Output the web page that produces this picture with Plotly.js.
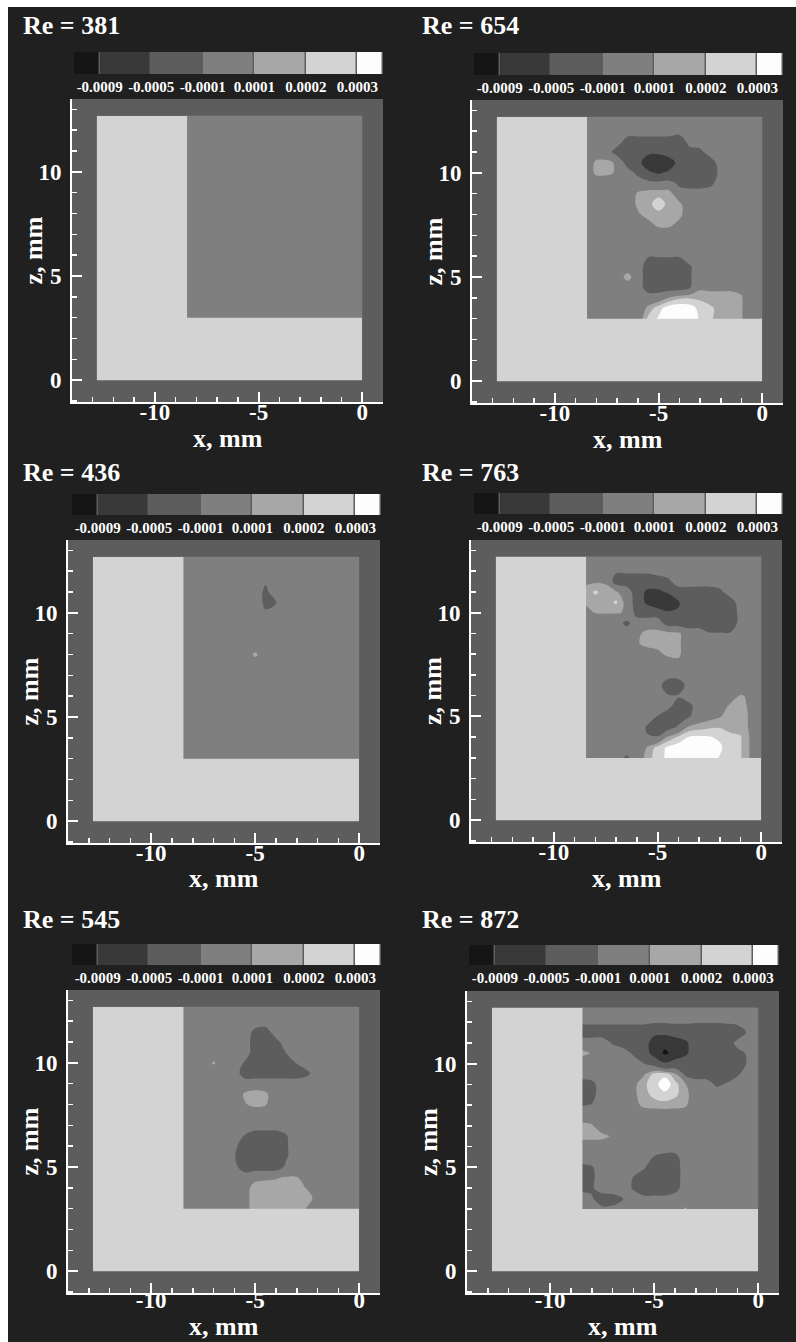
<!DOCTYPE html>
<html><head><meta charset="utf-8">
<script src="https://cdn.plot.ly/plotly-3.0.1.min.js"></script>
<style>
html,body{margin:0;padding:0;background:#ffffff;}
#chart{position:absolute;left:8px;top:7px;width:788px;height:1335px;}
</style></head>
<body><div id="chart"></div>
<script>
// Field values are given in units of 1e-4 (the legend shows them as 0.0001 etc.)
const VALUE_UNIT = 1e-4;
const levelLabels = ['-0.0009','-0.0005','-0.0001','0.0001','0.0002','0.0003'];
const levelValues = [-9, -5, -1, 1, 2, 3];
const bandColors = ['#151515','#393939','#5d5d5d','#7f7f7f','#a7a7a7','#d3d3d3','#fdfdfd'];
const legendBandValues = [-10, -7, -3, 0, 1.5, 2.5, 3.5];

const panelTitles = ['Re = 381','Re = 654','Re = 436','Re = 763','Re = 545','Re = 872'];
const xTickVals = [-10, -5, 0];
const xTickText = ['-10', '-5', '0'];
const zTickVals = [0, 5, 10];
const zTickText = ['0', '5', '10'];
const xRange = [-14, 1];
const zRange = [-1.05, 13.5];

// measurement grid (x, mm) and (z, mm, listed top-down); outermost nodes sit just under the wall/frame
const fieldX = [-8.5,-8,-7.5,-7,-6.5,-6,-5.5,-5,-4.5,-4,-3.5,-3,-2.5,-2,-1.5,-1,-0.5,0.05];
const fieldZ = [12.75,12.5,12,11.5,11,10.5,10,9.5,9,8.5,8,7.5,7,6.5,6,5.5,5,4.5,4,3.5,2.95];
// L-shaped wall region edges (x: outer, inner, end; z: floor, step, top) and values
const wallX = [-12.8, -8.45, 0];
const wallZ = [0, 3, 12.7];
const wallValue = 2.5;
const frameValue = -3;

const field381 = [
[0,0,0,0,0,0,0,0,0,0,0,0,0,0,0,0,0,0],
[0,0,0,0,0,0,0,0,0,0,0,0,0,0,0,0,0,0],
[0,0,0,0,0,0,0,0,0,0,0,0,0,0,0,0,0,0],
[0,0,0,0,0,0,0,0,0,0,0,0,0,0,0,0,0,0],
[0,0,0,0,0,0,0,0,0,0,0,0,0,0,0,0,0,0],
[0,0,0,0,0,0,0,0,0,0,0,0,0,0,0,0,0,0],
[0,0,0,0,0,0,0,0,0,0,0,0,0,0,0,0,0,0],
[0,0,0,0,0,0,0,0,0,0,0,0,0,0,0,0,0,0],
[0,0,0,0,0,0,0,0,0,0,0,0,0,0,0,0,0,0],
[0,0,0,0,0,0,0,0,0,0,0,0,0,0,0,0,0,0],
[0,0,0,0,0,0,0,0,0,0,0,0,0,0,0,0,0,0],
[0,0,0,0,0,0,0,0,0,0,0,0,0,0,0,0,0,0],
[0,0,0,0,0,0,0,0,0,0,0,0,0,0,0,0,0,0],
[0,0,0,0,0,0,0,0,0,0,0,0,0,0,0,0,0,0],
[0,0,0,0,0,0,0,0,0,0,0,0,0,0,0,0,0,0],
[0,0,0,0,0,0,0,0,0,0,0,0,0,0,0,0,0,0],
[0,0,0,0,0,0,0,0,0,0,0,0,0,0,0,0,0,0],
[0,0,0,0,0,0,0,0,0,0,0,0,0,0,0,0,0,0],
[0,0,0,0,0,0,0,0,0,0,0,0,0,0,0,0,0,0],
[0,0,0,0,0,0,0,0,0,0,0,0,0,0,0,0,0,0],
[0,0,0,0,0,0,0,0,0,0,0,0,0,0,0,0,0,0]
];

const field654 = [
[0,0,0,0,0,0,0,0,0,0,0,0,0,0,0,0,0,0],
[0,0,0,0,0,0,0,0,0,0,0,0,0,0,0,0,0,0],
[0,0,0,0,0,0,0,0,0,0,0,0,0,0,0,0,0,0],
[0,0,0,0,-2,-2,-2,-2,-2,-3,0,0,0,0,0,0,0,0],
[0,0,0,-2,-2,-2,-4,-4,-2,-2,-2,-1.5,0,0,0,0,0,0],
[0,1.3,1.3,0.8,-2,-3.5,-8,-9,-8,-3,-2,-2,-2,0,0,0,0,0],
[0,1.3,1.3,0.8,0,-1.5,-4,-5.5,-4,-2,-2,-2,-3,0,0,0,0,0],
[0,0,0,0,0,0,0,0,0,-1.5,-2,-2,-1.5,0,0,0,0,0],
[0,0,0,0,0,1.2,1.5,1.5,1.5,0,0,0,0,0,0,0,0,0],
[0,0,0,0,0,1.3,1.5,2.9,1.5,1.3,0,0,0,0,0,0,0,0],
[0,0,0,0,0,0.8,1.5,1.5,1.5,1.4,0,0,0,0,0,0,0,0],
[0,0,0,0,0,0,0.5,1.3,1.3,0.5,0,0,0,0,0,0,0,0],
[0,0,0,0,0,0,0,0,0,0,0,0,0,0,0,0,0,0],
[0,0,0,0,0,0,0,0,0,0,0,0,0,0,0,0,0,0],
[0,0,0,0,0,0,-0.9,-0.9,-0.9,-0.9,0,0,0,0,0,0,0,0],
[0,0,0,0,0,0,-2,-2,-2,-2,-1.2,0,0,0,0,0,0,0],
[0,0,0,0,1.6,0,-2,-2,-2,-2,-1.2,0,0,0,0,0,0,0],
[0,0,0,0,0,0,-2,-2,-2,-2,-1.2,0.7,0.7,0.7,0.7,0.7,0,0],
[0,0,0,0,0,0,0,0,1.1,1.8,1.9,1.8,1.5,1.5,1.5,1.1,0,0],
[0,0,0,0,0,0,1.3,2.6,3.6,3.8,3.6,2.6,2.2,1.6,1.5,1.1,0,0],
[0,0,0,0,0,0,2.4,3.2,3.6,3.6,3.5,2.9,2.1,1.6,1.5,1.1,0,0]
];

const field436 = [
[0,0,0,0,0,0,0,0,0,0,0,0,0,0,0,0,0,0],
[0,0,0,0,0,0,0,0,0,0,0,0,0,0,0,0,0,0],
[0,0,0,0,0,0,0,0,0,0,0,0,0,0,0,0,0,0],
[0,0,0,0,0,0,0,0,-0.8,0,0,0,0,0,0,0,0,0],
[0,0,0,0,0,0,0,0,-1.4,0,0,0,0,0,0,0,0,0],
[0,0,0,0,0,0,0,0,-1.4,-1.1,0,0,0,0,0,0,0,0],
[0,0,0,0,0,0,0,0,-0.8,0,0,0,0,0,0,0,0,0],
[0,0,0,0,0,0,0,0,0,0,0,0,0,0,0,0,0,0],
[0,0,0,0,0,0,0,0,0,0,0,0,0,0,0,0,0,0],
[0,0,0,0,0,0,0,0,0,0,0,0,0,0,0,0,0,0],
[0,0,0,0,0,0,0,1.3,0,0,0,0,0,0,0,0,0,0],
[0,0,0,0,0,0,0,0,0,0,0,0,0,0,0,0,0,0],
[0,0,0,0,0,0,0,0,0,0,0,0,0,0,0,0,0,0],
[0,0,0,0,0,0,0,0,0,0,0,0,0,0,0,0,0,0],
[0,0,0,0,0,0,0,0,0,0,0,0,0,0,0,0,0,0],
[0,0,0,0,0,0,0,0,0,0,0,0,0,0,0,0,0,0],
[0,0,0,0,0,0,0,0,0,0,0,0,0,0,0,0,0,0],
[0,0,0,0,0,0,0,0,0,0,0,0,0,0,0,0,0,0],
[0,0,0,0,0,0,0,0,0,0,0,0,0,0,0,0,0,0],
[0,0,0,0,0,0,0,0,0,0,0,0,0,0,0,0,0,0],
[0,0,0,0,0,0,0,0,0,0,0,0,0,0,0,0,0,0]
];

const field763 = [
[0,0,0,0,0,0,0,0,0,0,0,0,0,0,0,0,0,0],
[0,0,0,0,0,0,0,0,0,0,0,0,0,0,0,0,0,0],
[0,0,0,-0.7,-0.7,-0.7,-0.7,-0.3,0,0,0,0,0,0,0,0,0,0],
[0.8,0.8,0.8,-2,-2,-2,-2,-2,-1.5,0,0,0,0,0,0,0,0,0],
[1.3,2.2,1.5,1.2,0,-2,-6,-6,-4.5,-2,-2,-2,-2,-1.5,0,0,0,0],
[1.2,1.5,1.5,2.2,0.5,-2,-6,-9,-8,-5.5,-2,-2,-2,-2,-2,0,0,0],
[0,1.1,1.1,1.1,0.9,-1.8,-2,-2,-4.5,-4.5,-2,-2,-2,-2,-2,-0.5,0,0],
[0,0,0,0,-1.5,0,0,0,-2,-2,-2,-2,-2,-2,-2,-0.5,0,0],
[0,0,0,0,0,0.6,1.5,1.5,1.5,1.3,0,0,-0.9,-0.9,-0.9,0,0,0],
[0,0,0,0,0,0.8,1.5,1.5,1.5,1.3,0,0,0,0,0,0,0,0],
[0,0,0,0,0,0,0,0.6,1.3,1.3,0,0,0,0,0,0,0,0],
[0,0,0,0,0,0,0,0,0,0.5,0,0,0,0,0,0,0,0],
[0,0,0,0,0,0,0,0,0,0,0,0,0,0,0,0,0,0],
[0,0,0,0,0,0,0,0,-2.5,-2.5,0,0,0,0,0,0,0,0],
[0,0,0,0,0,0,0,0,-0.8,-0.8,0,0,0,0,0,1.1,0.8,0],
[0,0,0,0,0,0,0,0,-0.5,-1.8,-1.6,0,0,0,1.3,1.3,0.8,0],
[0,0,0,0,0,0,0,-1.1,-2,-2,-1.2,0,0.5,0.9,1.5,1.5,0.8,0],
[0,0,0,0,0,0,-1.2,-2,-2,-0.8,1.1,1.5,1.8,1.9,1.6,1.5,0.8,0],
[0,0,0,0,0,0,-0.9,-0.9,1.2,2.2,3.1,3.2,3.1,2.8,2.3,2.1,0.8,0],
[0,0,0,0,0,0,1.1,2.4,3.2,3.6,3.6,3.6,3.5,3.2,2.4,2.1,0.8,0],
[0,0,0,0,-1.5,0,1.5,2.6,3.2,3.6,3.6,3.6,3.4,2.9,2.3,2.1,0.8,0]
];

const field545 = [
[0,0,0,0,0,0,0,0,0,0,0,0,0,0,0,0,0,0],
[0,0,0,0,0,0,0,0,0,0,0,0,0,0,0,0,0,0],
[0,0,0,0,0,0,0,0,0,0,0,0,0,0,0,0,0,0],
[0,0,0,0,0,0,0,-1.5,-1.8,0,0,0,0,0,0,0,0,0],
[0,0,0,0,0,0,0,-2,-2,-1.6,0,0,0,0,0,0,0,0],
[0,0,0,0,0,0,0,-2,-2,-2,-0.9,0,0,0,0,0,0,0],
[0,0,0,1.2,0,0,-1.2,-2,-2,-2,-2,-0.9,0,0,0,0,0,0],
[0,0,0,0,0,0,-2,-2,-2,-2,-2,-2,-1.4,0,0,0,0,0],
[0,0,0,0,0,0,0,0,0,0,0,0,0,0,0,0,0,0],
[0,0,0,0,0,0,1.2,1.6,1.3,0,0,0,0,0,0,0,0,0],
[0,0,0,0,0,0,0.9,1.3,1.1,0,0,0,0,0,0,0,0,0],
[0,0,0,0,0,0,0,0,0,0,0,0,0,0,0,0,0,0],
[0,0,0,0,0,0,0,0,0,0,0,0,0,0,0,0,0,0],
[0,0,0,0,0,0,-1.1,-2,-2,-2,-1.1,0,0,0,0,0,0,0],
[0,0,0,0,0,-0.6,-2,-2,-2,-2,-1.2,0,0,0,0,0,0,0],
[0,0,0,0,0,-0.9,-2,-2,-2,-2,-1.2,0,0,0,0,0,0,0],
[0,0,0,0,0,-0.5,-2,-2,-2,-2,-0.6,0,0,0,0,0,0,0],
[0,0,0,0,0,0,0,0.6,0.8,0.9,1.1,1.1,0,0,0,0,0,0],
[0,0,0,0,0,0,0.5,1.5,1.5,1.5,1.5,1.5,0.9,0,0,0,0,0],
[0,0,0,0,0,0,0.6,1.5,1.5,1.5,1.5,1.5,1.5,0.5,0,0,0,0],
[0,0,0,0,0,0,0.6,1.5,1.5,1.5,1.5,1.5,0.8,0,0,0,0,0]
];

const field872 = [
[0,0,0,0,0,0,0,0,0,0,0,0,0,0,0,0,0,0],
[0,0,0,0,0,0,0,0,0,0,0,0,0,0,0,0,0,0],
[-0.7,-0.7,-0.7,-0.7,-0.7,-0.7,-0.7,-0.7,-0.7,-0.7,-0.8,-0.9,-0.9,-0.9,-0.8,-0.6,0,0],
[-2,-2,-2,-2,-2,-2,-2,-4,-4,-2.5,-2,-2,-2,-2,-2,-2,-0.8,0],
[0,0,0,-1.2,-2,-2,-3,-7,-8,-8,-6,-2,-2,-2,-2,-0.5,0,0],
[1.4,0.9,0,0,0,-1.3,-3,-6.5,-9.6,-8,-6,-2,-2,-2,-2,-1.5,-0.8,0],
[0,0,0,0,0,0,-0.9,-2,-4.5,-3,-2,-2,-2,-2,-2,-2,-0.8,0],
[0,0,0,0,0,0,0.8,2.3,2.6,1.3,-1.5,-2,-2,-2,-2,-1.3,0,0],
[-2,-1.6,0,0,0,0.6,1.8,2.5,3.8,2.4,1.1,0,0,-1.3,-0.8,0,0,0],
[-2,-1.6,0,0,0,0.7,1.6,2.3,2.6,2.2,1.5,0,0,0,0,0,0,0],
[-1.1,-0.9,0,0,0,0.5,1.3,1.5,1.6,1.5,1.2,0,0,0,0,0,0,0],
[0,0,0,0,0,0,0,0,0,0,0,0,0,0,0,0,0,0],
[1.5,1.2,0,0,0,0,0,0,0,0,0,0,0,0,0,0,0,0],
[1.5,1.5,1.4,0.8,0,0,0,0,0,0,0,0,0,0,0,0,0,0],
[0,0,0,0,0,0,0,0,0,0,0,0,0,0,0,0,0,0],
[0,0,0,0,0,0,0,-1.1,-1.6,-1.6,0,0,0,0,0,0,0,0],
[-1.5,-1.2,0,0,0,0,-0.8,-2,-2,-2,0,0,0,0,0,0,0,0],
[-2,-1.4,0,0,0,-1.1,-2,-2,-2,-2,0,0,0,0,0,0,0,0],
[-1.6,-1.3,0,0,0,-1.2,-2,-2,-2,-1.8,0,0,0,0,0,0,0,0],
[0,-0.8,-2,-1.8,-1.1,0,-0.6,-0.6,-0.6,0,0,0,0,0,0,0,0,0],
[0,0,-0.5,-0.5,0,0,0,0,0,0,1.3,0,0,0,0,0,0,0]
];

const panelFields = [field381, field654, field436, field763, field545, field872];

// ---------- layout geometry (page pixels) ----------
const PAGE_X0 = 8, PAGE_Y0 = 7, W = 788, H = 1335;
const plotRects = [[72,383,99,402],[472,783,100,403],[68,380,540,843],[471,782,540,842],[68,380,990,1293],[467,779,991,1293]];
const legendRects = [[74,383,52,74],[474,783,53,75],[72,381,494,515],[474,783,493,514],[72,381,944,965],[469,779,945,965]];
const titlePos = [[21,26],[420,26],[21,473],[420,473],[21,919],[420,919]];
const xTitleOffset = [36, 36, 36, 36, 33, 33];
const xTickStandoff = [-12, -12, -12, -12, -15, -15];
const px2x = p => (p - PAGE_X0) / W;
const py2y = p => 1 - (p - PAGE_Y0) / H;

const SERIF = 'Liberation Serif, Times New Roman, serif';
const WHITE = '#ffffff';

function bandColor(v) {
  let k = 0;
  while (k < levelValues.length && v > levelValues[k]) k++;
  return bandColors[k];
}
const HMIN = -10, HMAX = 4;
function heatScale() {
  const s = [];
  for (let k = 0; k < bandColors.length; k++) {
    const lo = k === 0 ? 0 : (levelValues[k-1] - HMIN) / (HMAX - HMIN);
    const hi = k === bandColors.length - 1 ? 1 : (levelValues[k] - HMIN) / (HMAX - HMIN);
    s.push([lo, bandColors[k]], [hi, bandColors[k]]);
  }
  return s;
}
const C_START = -9, C_END = 3, C_SIZE = 1;
function contourScale() {
  const nc = Math.round((C_END - C_START) / C_SIZE) + 1;
  const s = [];
  for (let j = 0; j <= nc; j++) {
    const c = bandColor(C_START + (j - 0.5) * C_SIZE);
    s.push([Math.max(0, (j - 0.5) / nc), c], [Math.min(1, (j + 0.5) / nc), c]);
  }
  return s;
}

// polygons built from the wall edges and the axis window
const wallPolyX = [wallX[0], wallX[2], wallX[2], wallX[1], wallX[1], wallX[0], wallX[0]];
const wallPolyZ = [wallZ[0], wallZ[0], wallZ[1], wallZ[1], wallZ[2], wallZ[2], wallZ[0]];
// frame strip above and to the right of the measured field
const framePolyX = [xRange[0], xRange[1], xRange[1], wallX[2], wallX[2], xRange[0], xRange[0]];
const framePolyZ = [zRange[1], zRange[1], zRange[0], zRange[0], wallZ[2], wallZ[2], zRange[1]];

const data = [];
const layout = {
  width: W, height: H, autosize: false,
  margin: {l:0, r:0, t:0, b:0, pad:0},
  paper_bgcolor: '#202020',
  plot_bgcolor: bandColor(frameValue),
  showlegend: false,
  annotations: [],
  font: {family: SERIF, color: WHITE}
};

const legendEdges = [0.5, 1, 2, 3, 4, 5, 6, 6.5];
const axFont = {family: SERIF, size: 23, color: WHITE, weight: 'bold'};
const titleFont = {family: SERIF, size: 26, color: WHITE, weight: 'bold'};

for (let i = 0; i < 6; i++) {
  const n = i + 1, m = i + 7;
  const xa = 'x' + (n === 1 ? '' : n), ya = 'y' + (n === 1 ? '' : n);
  const lxa = 'x' + m, lya = 'y' + m;
  const r = plotRects[i], lr = legendRects[i];

  // measured field
  data.push({
    type: 'contour', xaxis: xa, yaxis: ya,
    x: fieldX, y: fieldZ.slice().reverse(),
    z: panelFields[i].slice().reverse(),
    autocontour: false,
    contours: {start: C_START, end: C_END, size: C_SIZE, coloring: 'fill', showlines: false},
    line: {width: 0, smoothing: 1},
    colorscale: contourScale(),
    showscale: false, hoverinfo: 'skip'
  });
  // L-shaped wall region
  data.push({
    type: 'scatter', mode: 'lines', xaxis: xa, yaxis: ya,
    x: wallPolyX, y: wallPolyZ, fill: 'toself',
    fillcolor: bandColor(wallValue), line: {width: 0, color: bandColor(wallValue)},
    hoverinfo: 'skip'
  });
  // outer frame strips (cover the field's outer edge)
  data.push({
    type: 'scatter', mode: 'lines', xaxis: xa, yaxis: ya,
    x: framePolyX, y: framePolyZ, fill: 'toself',
    fillcolor: bandColor(frameValue), line: {width: 0, color: bandColor(frameValue)},
    hoverinfo: 'skip'
  });
  // colour legend
  data.push({
    type: 'heatmap', xaxis: lxa, yaxis: lya,
    x: legendEdges, y: [-0.5, 0.5],
    z: [legendBandValues],
    colorscale: heatScale(), zmin: HMIN, zmax: HMAX,
    xgap: 1.5,
    showscale: false, hoverinfo: 'skip'
  });

  layout['xaxis' + (n === 1 ? '' : n)] = {
    domain: [px2x(r[0]), px2x(r[1])], anchor: ya,
    range: xRange, fixedrange: true,
    tickmode: 'array', tickvals: xTickVals, ticktext: xTickText,
    ticks: 'inside', ticklen: 10, tickwidth: 2, tickcolor: WHITE,
    minor: {tickmode: 'linear', tick0: 0, dtick: 1, ticks: 'inside', ticklen: 5, tickwidth: 1.5, tickcolor: WHITE, showgrid: false},
    showline: true, linecolor: WHITE, linewidth: 2,
    showgrid: false, zeroline: false,
    tickfont: axFont, ticklabelstandoff: xTickStandoff[i]
  };
  layout['yaxis' + (n === 1 ? '' : n)] = {
    domain: [py2y(r[3]), py2y(r[2])], anchor: xa,
    range: zRange, fixedrange: true,
    tickmode: 'array', tickvals: zTickVals, ticktext: zTickText,
    ticks: 'inside', ticklen: 10, tickwidth: 2, tickcolor: WHITE,
    minor: {tickmode: 'linear', tick0: 0, dtick: 1, ticks: 'inside', ticklen: 5, tickwidth: 1.5, tickcolor: WHITE, showgrid: false},
    showline: true, linecolor: WHITE, linewidth: 2,
    showgrid: false, zeroline: false,
    tickfont: axFont, ticklabelstandoff: 4
  };
  layout['xaxis' + m] = {
    domain: [px2x(lr[0]), px2x(lr[1])], anchor: lya,
    range: [0.5, 6.5], fixedrange: true,
    tickmode: 'array', tickvals: [1,2,3,4,5,6], ticktext: levelLabels,
    ticks: '', showline: false, showgrid: false, zeroline: false,
    tickfont: {family: SERIF, size: 15, color: WHITE, weight: 'bold'},
    ticklabelstandoff: 2
  };
  layout['yaxis' + m] = {
    domain: [py2y(lr[3]), py2y(lr[2])], anchor: lxa,
    range: [-0.5, 0.5], fixedrange: true, visible: false
  };
  // panel title
  layout.annotations.push({
    xref: 'paper', yref: 'paper',
    x: px2x(titlePos[i][0]), y: py2y(titlePos[i][1]),
    xanchor: 'left', yanchor: 'middle', showarrow: false,
    text: panelTitles[i], font: titleFont
  });
  // axis titles
  layout.annotations.push({
    xref: 'paper', yref: 'paper',
    x: px2x((r[0] + r[1]) / 2), y: py2y(r[3] + xTitleOffset[i]),
    xanchor: 'center', yanchor: 'middle', showarrow: false, borderpad: 0,
    text: 'x, mm', font: titleFont
  });
  layout.annotations.push({
    xref: 'paper', yref: 'paper',
    x: px2x(r[0] - 39), y: py2y((r[2] + r[3]) / 2),
    xanchor: 'center', yanchor: 'middle', showarrow: false, textangle: -90,
    text: 'z, mm', font: titleFont
  });
}

Plotly.newPlot('chart', data, layout, {staticPlot: true, displayModeBar: false});
</script>
</body></html>
